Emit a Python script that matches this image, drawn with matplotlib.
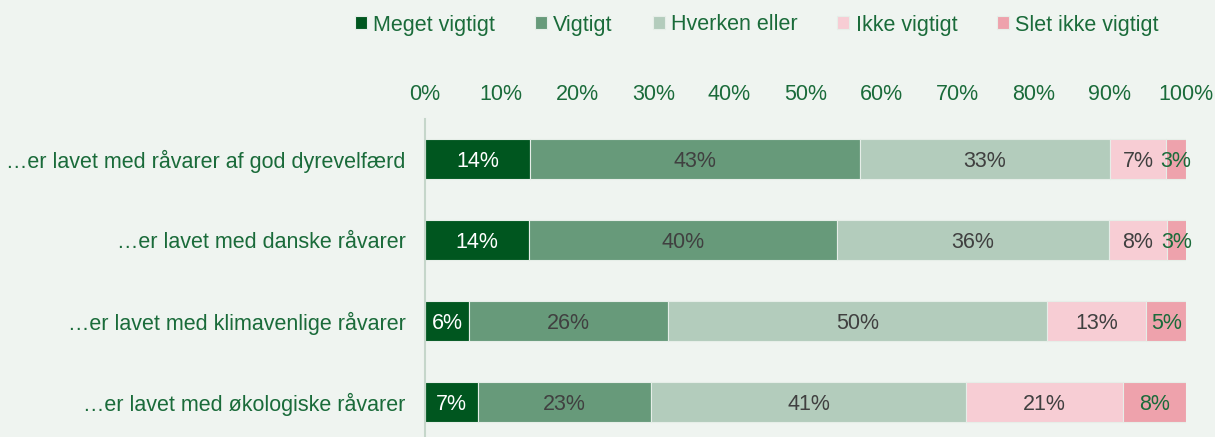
import matplotlib.pyplot as plt
import numpy as np

plt.rcParams['font.family'] = ['Liberation Sans', 'DejaVu Sans']

# Data
categories = [
    '…er lavet med råvarer af god dyrevelfærd',
    '…er lavet med danske råvarer',
    '…er lavet med klimavenlige råvarer',
    '…er lavet med økologiske råvarer',
]
series_names = ['Meget vigtigt', 'Vigtigt', 'Hverken eller', 'Ikke vigtigt', 'Slet ikke vigtigt']
meget_vigtigt = [13.8, 13.7, 5.8, 7.0]
vigtigt = [43.4, 40.4, 26.1, 22.7]
hverken_eller = [32.8, 35.8, 49.8, 41.4]
ikke_vigtigt = [7.4, 7.6, 13.1, 20.6]
slet_ikke = [2.6, 2.6, 5.2, 8.3]
x_ticks = [0, 10, 20, 30, 40, 50, 60, 70, 80, 90, 100]

series = [meget_vigtigt, vigtigt, hverken_eller, ikke_vigtigt, slet_ikke]
colors = ['#00561F', '#679A7A', '#B3CCBC', '#F7CDD4', '#EEA2AC']
label_colors = ['white', '#404040', '#404040', '#404040', '#1A6B3A']
green_text = '#1A6B3A'
bg = '#EFF4F0'
fs = 15.5

fig = plt.figure(figsize=(12.15, 4.37), dpi=100, facecolor=bg)
ax = fig.add_axes([425 / 1215, 0, (1186 - 425) / 1215, 1 - 118.5 / 437])
ax.set_facecolor(bg)

y = np.arange(len(categories))
left = np.zeros(len(categories))
for name, vals, col, lcol in zip(series_names, series, colors, label_colors):
    vals = np.array(vals)
    ax.barh(y, vals, left=left, height=0.49, color=col, label=name,
            edgecolor='#E6EEE8', linewidth=0.8)
    for yi, l, v in zip(y, left, vals):
        ax.text(l + v / 2, yi, f'{v:.0f}%', ha='center', va='center_baseline',
                color=lcol, fontsize=fs)
    left += vals

ax.set_xlim(0, 100)
ax.set_ylim(3.43, -0.5)
ax.set_yticks(y)
ax.set_yticklabels(categories, fontsize=fs, color=green_text, va='center_baseline')
ax.set_xticks(x_ticks)
ax.set_xticklabels([f'{t}%' for t in x_ticks], fontsize=fs, color=green_text)
ax.xaxis.tick_top()
ax.tick_params(axis='x', length=0, pad=10)
ax.tick_params(axis='y', length=0, pad=14)
for side in ['top', 'right', 'bottom']:
    ax.spines[side].set_visible(False)
ax.spines['left'].set_color('#C5D6CA')
ax.spines['left'].set_linewidth(1.5)

leg = fig.legend(loc='center', bbox_to_anchor=(757 / 1215, 1 - 25 / 437), ncol=5,
                 frameon=False, fontsize=fs, handlelength=0.55, handleheight=0.55,
                 handletextpad=0.3, columnspacing=1.85)
for t in leg.get_texts():
    t.set_color(green_text)

fig.savefig('out.png', dpi=100, facecolor=bg)
